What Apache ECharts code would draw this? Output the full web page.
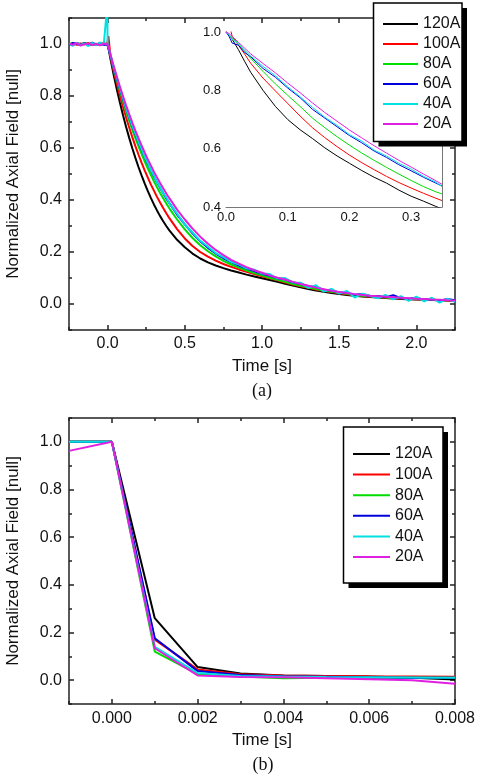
<!DOCTYPE html>
<html>
<head>
<meta charset="utf-8">
<script src="https://cdn.jsdelivr.net/npm/echarts@6/dist/echarts.min.js"></script>
<style>
html,body{margin:0;padding:0;background:#fff;}
#c{width:478px;height:780px;}
</style>
</head>
<body>
<div id="c"></div>
<script>
// ---------- DATA ----------
const NAMES = ['120A','100A','80A','60A','40A','20A'];
const COLORS = ['#000000','#ff0000','#00dd00','#0000dd','#00e0e0','#e020e0'];

// Panel (a), main plot: time [s]
const T = [-0.25,-0.225,-0.2,-0.175,-0.15,-0.125,-0.1,-0.075,-0.05,-0.025,-0.002,0,0.005,
0.02,0.04,0.06,0.08,0.1,0.12,0.14,0.16,0.18,0.2,0.22,0.24,0.26,0.28,0.3,0.32,0.34,0.36,0.38,0.4,
0.45,0.5,0.55,0.6,0.65,0.7,0.75,0.8,0.85,0.9,0.95,1.0,1.05,1.1,1.15,1.2,1.25,1.3,1.35,1.4,1.45,1.5,
1.55,1.6,1.65,1.7,1.75,1.8,1.85,1.9,1.95,2.0,2.05,2.1,2.15,2.2,2.25];

const A120 = [1.002,0.996,1.004,0.998,1.003,0.995,1.001,0.997,1.004,0.999,1.0,1.0,0.985,
0.938,0.88,0.825,0.774,0.726,0.681,0.639,0.599,0.562,0.527,0.495,0.464,0.435,0.408,0.383,0.36,0.338,0.318,0.3,0.283,
0.247,0.218,0.194,0.175,0.16,0.148,0.138,0.129,0.121,0.113,0.106,0.099,0.092,0.085,0.078,0.071,0.064,0.058,0.052,0.047,0.042,0.038,
0.035,0.032,0.029,0.027,0.025,0.023,0.021,0.019,0.018,0.017,0.016,0.015,0.014,0.013,0.012];

const A100 = [0.998,1.003,0.997,1.002,0.999,1.004,0.996,1.001,0.998,1.003,1.0,1.0,1.03,
0.946,0.895,0.847,0.801,0.758,0.717,0.679,0.642,0.607,0.575,0.544,0.514,0.487,0.46,0.436,0.412,0.39,0.369,0.349,0.33,
0.288,0.252,0.223,0.2,0.182,0.167,0.154,0.143,0.133,0.124,0.115,0.107,0.099,0.091,0.083,0.075,0.068,0.062,0.056,0.05,0.046,0.041,
0.037,0.034,0.031,0.028,0.026,0.024,0.022,0.021,0.019,0.018,0.017,0.016,0.015,0.013,0.012];

const A80 = [1.003,0.998,1.001,0.996,1.004,0.999,1.002,0.997,1.003,0.998,1.0,1.0,0.99,
0.951,0.905,0.861,0.819,0.779,0.741,0.705,0.67,0.638,0.607,0.577,0.549,0.522,0.497,0.472,0.449,0.427,0.407,0.387,0.368,
0.325,0.287,0.254,0.226,0.203,0.183,0.166,0.152,0.14,0.129,0.119,0.11,0.101,0.093,0.085,0.077,0.07,0.064,0.058,0.052,0.047,0.043,
0.039,0.035,0.032,0.03,0.027,0.025,0.023,0.022,0.02,0.019,0.018,0.016,0.015,0.014,0.013];

const A60 = [0.995,1.004,1.0,0.997,1.003,0.996,1.005,0.998,1.002,0.996,1.0,1.0,0.985,
0.952,0.907,0.867,0.827,0.789,0.752,0.718,0.684,0.653,0.623,0.594,0.566,0.54,0.515,0.491,0.468,0.447,0.426,0.406,0.388,
0.344,0.306,0.272,0.241,0.216,0.194,0.176,0.161,0.148,0.136,0.127,0.116,0.109,0.099,0.094,0.083,0.078,0.068,0.065,0.055,0.052,0.044,
0.043,0.036,0.038,0.03,0.031,0.026,0.034,0.022,0.02,0.024,0.016,0.018,0.013,0.019,0.014];

const A40 = [1.0,0.993,1.005,0.996,1.002,0.992,1.004,0.995,1.006,0.997,1.15,1.0,0.99,
0.956,0.91,0.87,0.829,0.792,0.753,0.72,0.686,0.655,0.624,0.597,0.566,0.543,0.515,0.494,0.468,0.45,0.426,0.41,0.388,
0.347,0.306,0.275,0.243,0.22,0.196,0.18,0.162,0.152,0.137,0.132,0.117,0.115,0.098,0.1,0.083,0.082,0.062,0.072,0.048,0.058,0.04,
0.05,0.025,0.04,0.032,0.022,0.035,0.018,0.03,0.012,0.028,0.01,0.024,0.005,0.02,0.008];

const A20 = [1.001,0.997,1.003,0.994,0.999,1.002,0.996,1.0,0.995,1.001,1.0,1.0,0.99,
0.956,0.914,0.874,0.835,0.799,0.763,0.73,0.698,0.667,0.638,0.61,0.583,0.557,0.533,0.509,0.487,0.465,0.445,0.425,0.407,
0.363,0.325,0.29,0.259,0.232,0.208,0.188,0.17,0.155,0.142,0.13,0.12,0.11,0.101,0.094,0.085,0.077,0.07,0.063,0.057,0.051,0.046,
0.042,0.038,0.035,0.032,0.03,0.028,0.026,0.024,0.022,0.02,0.019,0.017,0.016,0.014,0.013];

// Panel (a), inset: time [s]
const TI = [0,0.005,0.01,0.02,0.03,0.04,0.06,0.08,0.1,0.12,0.14,0.16,0.18,0.2,0.22,0.24,0.26,0.28,0.3,0.32,0.34,0.35];
const I120 = [1.0,0.99,0.975,0.94,0.9,0.862,0.8,0.745,0.7,0.665,0.635,0.603,0.575,0.55,0.525,0.502,0.482,0.458,0.437,0.42,0.402,0.393];
const I100 = [1.0,1.03,0.985,0.955,0.925,0.893,0.842,0.798,0.755,0.712,0.672,0.638,0.607,0.578,0.552,0.528,0.505,0.484,0.465,0.447,0.43,0.422];
const I80  = [1.0,0.99,0.98,0.96,0.935,0.91,0.865,0.822,0.783,0.745,0.705,0.672,0.641,0.612,0.585,0.56,0.536,0.513,0.491,0.47,0.452,0.445];
const I60  = [1.0,0.985,0.962,0.955,0.93,0.915,0.875,0.845,0.808,0.775,0.735,0.705,0.675,0.645,0.62,0.592,0.57,0.545,0.524,0.502,0.482,0.472];
const I40  = [1.0,0.99,0.975,0.96,0.938,0.918,0.882,0.85,0.812,0.778,0.742,0.708,0.68,0.648,0.626,0.595,0.575,0.55,0.53,0.505,0.485,0.47];
const I20  = [1.0,0.995,0.985,0.965,0.945,0.925,0.892,0.86,0.825,0.792,0.757,0.724,0.694,0.664,0.637,0.61,0.585,0.56,0.537,0.513,0.49,0.478];

// Panel (b): time [s]
const TB = [-0.001,0,0.001,0.002,0.003,0.004,0.005,0.006,0.007,0.008];
const B120 = [1.0,1.0,0.26,0.055,0.028,0.02,0.018,0.015,0.01,0.003];
const B100 = [1.0,1.0,0.17,0.045,0.025,0.02,0.018,0.016,0.015,0.014];
const B80  = [1.0,1.0,0.12,0.025,0.015,0.008,0.01,0.01,0.01,0.01];
const B60  = [1.0,1.0,0.176,0.038,0.022,0.016,0.014,0.012,0.01,0.01];
const B40  = [1.0,1.0,0.14,0.03,0.018,0.015,0.013,0.012,0.011,0.01];
const B20  = [0.962,1.0,0.134,0.02,0.013,0.012,0.008,0.004,0.0,-0.015];

// Tick values
const A_XMAJ = [0,0.5,1.0,1.5,2.0];
const A_XMIN = [-0.25,0.25,0.75,1.25,1.75,2.25];
const Y_MAJ = [0,0.2,0.4,0.6,0.8,1.0];
const Y_MIN = [-0.1,0.1,0.3,0.5,0.7,0.9,1.1];
const I_XMAJ = [0,0.1,0.2,0.3];
const I_XMIN = [0.05,0.15,0.25,0.35];
const I_YMAJ = [0.4,0.6,0.8,1.0];
const I_YMIN = [0.5,0.7,0.9];
const B_XMAJ = [0,0.002,0.004,0.006,0.008];
const B_XMIN = [-0.001,0.001,0.003,0.005,0.007];

const A_SERIES = [A120,A100,A80,A60,A40,A20];
const I_SERIES = [I120,I100,I80,I60,I40,I20];
const B_SERIES = [B120,B100,B80,B60,B40,B20];

// ---------- CHART ----------
const SANS = "'Liberation Sans', Arial, sans-serif";
const SERIF = "'Liberation Serif', 'Times New Roman', serif";

function axesFor(dim, grid, min, max, maj, mino, fmt, o) {
  const pos = dim === 'x' ? ['bottom','top'] : ['left','right'];
  const ls = {color:o.color, width:o.lw};
  const base = {type:'value', gridIndex:grid, min:min, max:max, splitLine:{show:false},
    axisLine:{show:true,onZero:false,lineStyle:ls}, silent:true};
  const lab = {customValues:maj, formatter:fmt, margin:o.margin, fontSize:o.fs,
    fontFamily:SANS, color:'#111', showMinLabel:true, showMaxLabel:true};
  return [
    Object.assign({}, base, {position:pos[0], axisTick:{inside:true,length:o.maj,customValues:maj,lineStyle:ls}, axisLabel:lab}),
    Object.assign({}, base, {position:pos[0], axisLine:{show:false,onZero:false}, axisTick:{inside:true,length:o.min,customValues:mino,lineStyle:ls}, axisLabel:{show:false}}),
    Object.assign({}, base, {position:pos[1], axisTick:{show:o.mirror,inside:true,length:o.maj,customValues:maj,lineStyle:ls}, axisLabel:{show:false}}),
    Object.assign({}, base, {position:pos[1], axisLine:{show:false,onZero:false}, axisTick:{show:o.mirror,inside:true,length:o.min,customValues:mino,lineStyle:ls}, axisLabel:{show:false}})
  ];
}

const f1 = v => v.toFixed(1);
const f3 = v => v.toFixed(3);
const mainO = {color:'#222', lw:1.5, maj:5, min:3, fs:16, mirror:true};
const insetO = {color:'#777', lw:1, maj:4, min:2, fs:13, mirror:true};

const xAxis = [].concat(
  axesFor('x',0,-0.25,2.25,A_XMAJ,A_XMIN,f1,Object.assign({margin:6},mainO)),
  axesFor('x',1,0,0.35,I_XMAJ,I_XMIN,f1,Object.assign({margin:4},insetO)),
  axesFor('x',2,-0.001,0.008,B_XMAJ,B_XMIN,f3,Object.assign({margin:7},mainO))
);
const yAxis = [].concat(
  axesFor('y',0,-0.1,1.1,Y_MAJ,Y_MIN,f1,Object.assign({margin:7},mainO)),
  axesFor('y',1,0.4,1.0,I_YMAJ,I_YMIN,f1,Object.assign({margin:5},insetO)),
  axesFor('y',2,-0.1,1.1,Y_MAJ,Y_MIN,f1,Object.assign({margin:7},mainO))
);

function addSeries(list, xs, ys, ax, width, z) {
  NAMES.forEach((n,k)=>{
    list.push({name:n, type:'line', xAxisIndex:ax, yAxisIndex:ax,
      data: xs.map((t,i)=>[t, ys[k][i]]), symbol:'none', clip:true,
      lineStyle:{color:COLORS[k], width:width}, itemStyle:{color:COLORS[k]},
      silent:true, animation:false, z:z});
  });
}
const series = [];
addSeries(series, T, A_SERIES, 0, 2, 2);
addSeries(series, TI, I_SERIES, 4, 1, 5);
addSeries(series, TB, B_SERIES, 8, 2, 2);

const legendBase = {data:NAMES, orient:'vertical', icon:'rect', itemHeight:2, selectedMode:false, padding:0,
  textStyle:{fontSize:16, fontFamily:SANS, color:'#111', lineHeight:16}, z:12};

// legend frames (box + offset drop shadow)
function frame(x, y, w, h) {
  return [
    {type:'rect', z:10, silent:true, shape:{x:x+5, y:y+5, width:w, height:h}, style:{fill:'#000'}},
    {type:'rect', z:11, silent:true, shape:{x:x, y:y, width:w, height:h}, style:{fill:'#fff', stroke:'#000', lineWidth:1.5}}
  ];
}

const option = {
  animation:false,
  backgroundColor:'#fff',
  grid:[
    {left:69, top:18, width:386, height:312, containLabel:false},
    {left:226, top:32, width:216, height:175, containLabel:false, show:true, backgroundColor:'#fff', borderWidth:0, z:3},
    {left:69, top:418, width:387, height:286, containLabel:false}
  ],
  xAxis:xAxis,
  yAxis:yAxis,
  legend:[
    Object.assign({}, legendBase, {left:383, top:16, itemWidth:35, itemGap:4}),
    Object.assign({}, legendBase, {left:353, top:446, itemWidth:37, itemGap:4.6})
  ],
  series:series,
  graphic:[].concat(
    frame(373.5, 3, 88.5, 138.5),
    frame(343.5, 427, 99.5, 156),
    [
    {type:'text', x:13, y:174, rotation:Math.PI/2, style:{text:'Normalized Axial Field [null]', font:"17px "+SANS, fill:'#111', align:'center', verticalAlign:'middle'}},
    {type:'text', x:262, y:366, style:{text:'Time [s]', font:"17px "+SANS, fill:'#111', align:'center', verticalAlign:'middle'}},
    {type:'text', x:262, y:391, style:{text:'(a)', font:"18px "+SERIF, fill:'#111', align:'center', verticalAlign:'middle'}},
    {type:'text', x:13, y:561, rotation:Math.PI/2, style:{text:'Normalized Axial Field [null]', font:"17px "+SANS, fill:'#111', align:'center', verticalAlign:'middle'}},
    {type:'text', x:262, y:740, style:{text:'Time [s]', font:"17px "+SANS, fill:'#111', align:'center', verticalAlign:'middle'}},
    {type:'text', x:263, y:765, style:{text:'(b)', font:"18px "+SERIF, fill:'#111', align:'center', verticalAlign:'middle'}}
    ]
  )
};

const chart = echarts.init(document.getElementById('c'), null, {renderer:'canvas'});
chart.setOption(option);
</script>
</body>
</html>
